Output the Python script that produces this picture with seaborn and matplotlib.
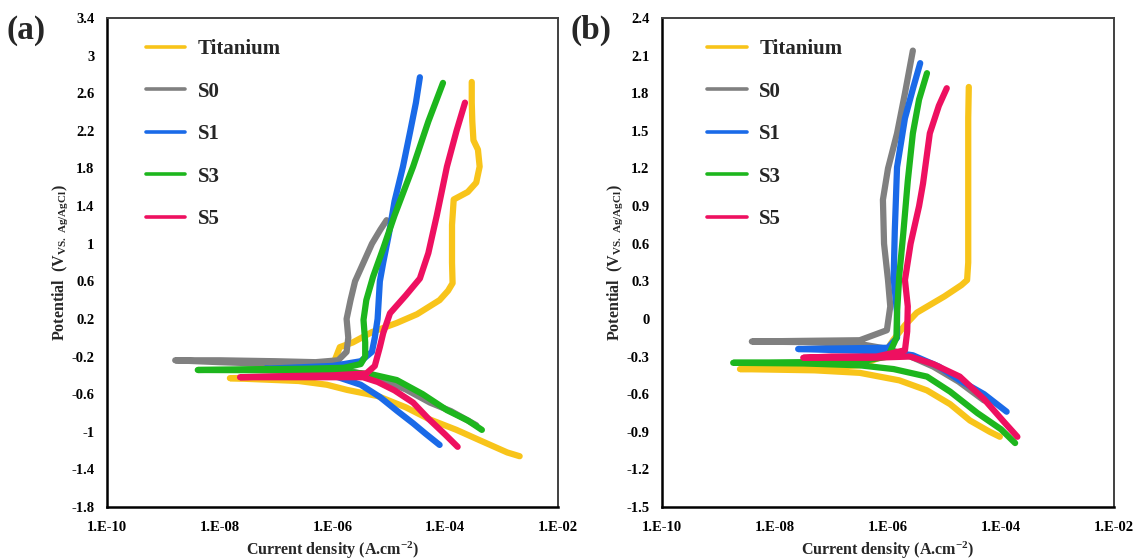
import numpy as np
import pandas as pd
import seaborn as sns
import matplotlib
matplotlib.use("Agg")
import matplotlib.pyplot as plt
from matplotlib.ticker import FixedLocator, FuncFormatter, NullFormatter
from matplotlib.lines import Line2D

# ---------------- data (log10 of current density, potential in V) ----------------
series_names = ["Titanium", "S0", "S1", "S3", "S5"]
series_colors = ["#F8C41A", "#808080", "#1A6AE8", "#1DB61D", "#EE1060"]

# panel (a)
a_ti_logi = [-2.68, -2.9, -3.39, -3.8, -4.27, -4.7, -5.2, -5.74, -6.1, -6.6, -7.0, -7.82,
             -7.0, -6.3, -6.0, -5.87, -5.64, -5.3, -4.86, -4.5, -4.1, -3.95, -3.87,
             -3.88, -3.88, -3.85, -3.6, -3.45, -3.39, -3.42, -3.5, -3.52, -3.53, -3.53]
a_ti_e = [-1.26, -1.22, -1.09, -0.98, -0.87, -0.74, -0.62, -0.555, -0.5, -0.46, -0.45, -0.43,
          -0.42, -0.41, -0.3, -0.1, -0.05, 0.06, 0.157, 0.25, 0.4, 0.5, 0.58,
          0.8, 1.2, 1.47, 1.55, 1.65, 1.82, 2.0, 2.1, 2.3, 2.5, 2.72]

a_s0_logi = [-3.45, -3.9, -4.27, -4.7, -5.1, -5.5, -5.9, -6.3, -7.0, -8.0, -8.79,
             -8.0, -7.0, -6.3, -5.9, -5.75, -5.72, -5.75, -5.68, -5.6, -5.45, -5.3, -5.15, -5.04]
a_s0_e = [-0.93, -0.78, -0.69, -0.55, -0.45, -0.38, -0.33, -0.3, -0.28, -0.26, -0.24,
          -0.24, -0.25, -0.26, -0.24, -0.15, 0.0, 0.2, 0.4, 0.6, 0.8, 1.0, 1.15, 1.25]

a_s1_logi = [-4.1, -4.35, -4.57, -4.85, -5.16, -5.5, -5.9, -6.3, -7.2,
             -6.0, -5.5, -5.3, -5.25, -5.2, -5.18, -5.16, -5.1, -5.0, -4.9, -4.75, -4.62, -4.52, -4.45]
a_s1_e = [-1.14, -1.02, -0.91, -0.78, -0.63, -0.5, -0.42, -0.37, -0.33,
          -0.3, -0.25, -0.15, 0.0, 0.2, 0.4, 0.6, 0.8, 1.1, 1.45, 1.82, 2.2, 2.5, 2.77]

a_s3_logi = [-3.35, -3.6, -3.97, -4.4, -4.86, -5.3, -5.8, -6.5, -7.5, -8.39,
             -7.5, -6.5, -5.8, -5.5, -5.42, -5.42, -5.45, -5.4, -5.28, -5.1, -4.9, -4.57, -4.3, -4.04]
a_s3_e = [-0.98, -0.88, -0.77, -0.6, -0.45, -0.39, -0.36, -0.35, -0.345, -0.343,
          -0.335, -0.33, -0.32, -0.28, -0.2, -0.05, 0.19, 0.4, 0.65, 0.95, 1.3, 1.82, 2.3, 2.71]

a_s5_logi = [-3.78, -4.0, -4.3, -4.57, -4.9, -5.2, -5.46, -6.0, -7.0, -7.64,
             -7.0, -6.0, -5.4, -5.25, -5.16, -5.1, -4.98, -4.7, -4.45, -4.3, -4.15, -3.97, -3.8, -3.65]
a_s5_e = [-1.16, -1.03, -0.86, -0.69, -0.56, -0.47, -0.42, -0.42, -0.42, -0.42,
          -0.41, -0.4, -0.38, -0.3, -0.1, 0.05, 0.26, 0.45, 0.63, 0.9, 1.3, 1.82, 2.2, 2.5]

# panel (b)
b_ti_logi = [-4.02, -4.2, -4.55, -4.9, -5.31, -5.8, -6.5, -7.3, -8.62,
             -7.3, -6.5, -6.1, -5.91, -5.7, -5.49, -5.0, -4.7, -4.6, -4.58, -4.58, -4.58, -4.58, -4.57]
b_ti_e = [-0.94, -0.9, -0.81, -0.68, -0.57, -0.49, -0.43, -0.41, -0.4,
          -0.39, -0.37, -0.3, -0.17, -0.05, 0.05, 0.18, 0.27, 0.31, 0.45, 0.8, 1.2, 1.6, 1.85]

b_s0_logi = [-4.3, -4.75, -5.2, -5.6, -6.0, -6.5, -7.5, -8.41,
             -7.5, -6.5, -6.02, -5.96, -6.0, -6.07, -6.09, -6.0, -5.84, -5.7, -5.56]
b_s0_e = [-0.65, -0.5, -0.38, -0.3, -0.24, -0.2, -0.185, -0.18,
          -0.175, -0.17, -0.09, 0.1, 0.31, 0.6, 0.95, 1.2, 1.48, 1.8, 2.14]

b_s1_logi = [-3.9, -4.3, -4.73, -5.1, -5.56, -6.0, -6.8, -7.59,
             -6.8, -6.0, -5.84, -5.84, -5.9, -5.88, -5.84, -5.7, -5.55, -5.43]
b_s1_e = [-0.74, -0.6, -0.49, -0.38, -0.29, -0.26, -0.25, -0.24,
          -0.235, -0.23, -0.15, 0.05, 0.33, 0.7, 1.21, 1.6, 1.85, 2.04]

b_s3_logi = [-3.75, -4.0, -4.42, -4.9, -5.31, -5.9, -6.5, -7.5, -8.74,
             -7.5, -6.5, -6.0, -5.85, -5.84, -5.8, -5.73, -5.65, -5.56, -5.45, -5.31]
b_s3_e = [-0.99, -0.88, -0.75, -0.58, -0.46, -0.4, -0.37, -0.355, -0.35,
          -0.345, -0.34, -0.3, -0.15, 0.05, 0.35, 0.68, 1.1, 1.48, 1.75, 1.96]

b_s5_logi = [-3.71, -3.95, -4.3, -4.73, -5.2, -5.61, -6.3, -7.0, -7.5,
             -7.0, -6.2, -5.7, -5.66, -5.65, -5.7, -5.6, -5.45, -5.38, -5.26, -5.1, -4.96]
b_s5_e = [-0.94, -0.82, -0.64, -0.46, -0.36, -0.3, -0.31, -0.31, -0.31,
          -0.3, -0.3, -0.25, -0.1, 0.1, 0.31, 0.6, 0.9, 1.08, 1.48, 1.7, 1.84]

x_tick_exponents = [-10, -8, -6, -4, -2]
a_yticks = [-1.8, -1.4, -1.0, -0.6, -0.2, 0.2, 0.6, 1.0, 1.4, 1.8, 2.2, 2.6, 3.0, 3.4]
b_yticks = [-1.5, -1.2, -0.9, -0.6, -0.3, 0.0, 0.3, 0.6, 0.9, 1.2, 1.5, 1.8, 2.1, 2.4]

panel_a = [(a_ti_logi, a_ti_e), (a_s0_logi, a_s0_e), (a_s1_logi, a_s1_e),
           (a_s3_logi, a_s3_e), (a_s5_logi, a_s5_e)]
panel_b = [(b_ti_logi, b_ti_e), (b_s0_logi, b_s0_e), (b_s1_logi, b_s1_e),
           (b_s3_logi, b_s3_e), (b_s5_logi, b_s5_e)]

# ---------------- style ----------------
sns.set_style("white")
plt.rcParams["font.family"] = ["Liberation Serif", "DejaVu Serif"]
plt.rcParams["font.weight"] = "bold"
plt.rcParams["mathtext.fontset"] = "custom"
plt.rcParams["mathtext.rm"] = "Liberation Serif"
plt.rcParams["mathtext.it"] = "Liberation Serif:italic"
plt.rcParams["mathtext.bf"] = "Liberation Serif:bold"

fig = plt.figure(figsize=(11.41, 5.60), dpi=100)
ax_a = fig.add_axes([107 / 1141, 1 - 507 / 560, 451 / 1141, 489 / 560])
ax_b = fig.add_axes([662 / 1141, 1 - 507 / 560, 452 / 1141, 489 / 560])

x_major = [10.0 ** e for e in x_tick_exponents]
x_minor = [m * 10.0 ** e for e in range(x_tick_exponents[0], x_tick_exponents[-1])
           for m in range(1, 10) if not (m == 1 and e in x_tick_exponents)]


def xfmt(v, pos):
    e = int(round(np.log10(v)))
    return f"1.E-{abs(e):02d}" if e < 0 else f"1.E+{e:02d}"


def yfmt(v, pos):
    v = round(v, 2)
    if abs(v) < 1e-9:
        v = 0.0
    return f"{v:g}"


def draw(ax, data, yticks, legend_x):
    for (logi, e), name, col in zip(data, series_names, series_colors):
        df = pd.DataFrame({"i": np.power(10.0, np.array(logi)), "E": e})
        sns.lineplot(data=df, x="i", y="E", sort=False, estimator=None, color=col,
                     lw=4.5, ax=ax, legend=False, solid_capstyle="round",
                     solid_joinstyle="round")
    ax.set_xscale("log")
    ax.set_xlim(x_major[0], x_major[-1])
    ax.set_ylim(yticks[0], yticks[-1])
    ax.xaxis.set_major_locator(FixedLocator(x_major))
    ax.xaxis.set_minor_locator(FixedLocator(x_minor))
    ax.xaxis.set_major_formatter(FuncFormatter(xfmt))
    ax.xaxis.set_minor_formatter(NullFormatter())
    yt = np.array(yticks)
    ax.yaxis.set_major_locator(FixedLocator(yt))
    ax.yaxis.set_minor_locator(FixedLocator((yt[:-1] + yt[1:]) / 2))
    ax.yaxis.set_major_formatter(FuncFormatter(yfmt))
    ax.tick_params(axis="both", which="major", direction="out", length=5, width=1.5,
                   labelsize=10.5, pad=4, colors="black")
    ax.tick_params(axis="x", which="major", direction="inout", length=8, pad=6)
    ax.tick_params(axis="both", which="minor", direction="in", length=3, width=1.0)
    for s in ["left", "bottom"]:
        ax.spines[s].set_color("black")
        ax.spines[s].set_linewidth(1.8)
    for s in ["top", "right"]:
        ax.spines[s].set_color("#404040")
        ax.spines[s].set_linewidth(1.4)
    for lab in ax.get_xticklabels() + ax.get_yticklabels():
        lab.set_fontweight("bold")
    ax.set_xlabel("Current density (A.cm$^{\\mathbf{-2}}$)", fontsize=11.5,
                  fontweight="bold", labelpad=4)
    ax.set_ylabel("Potential  (V$_{\\mathrm{VS.\\ Ag/AgCl}}$)", fontsize=11.5,
                  fontweight="bold", labelpad=1)
    handles = [Line2D([], [], color=c, lw=2.6) for c in series_colors]
    ax.legend(handles, series_names, loc="upper left", bbox_to_anchor=(legend_x, 0.957),
              frameon=False, borderpad=0, borderaxespad=0, handlelength=1.9,
              handletextpad=0.6, labelspacing=1.08,
              prop={"family": "Liberation Serif", "weight": "bold", "size": 15})


draw(ax_a, panel_a, a_yticks, 0.086)
draw(ax_b, panel_b, b_yticks, 0.10)

fig.text(7 / 1141, 1 - 30 / 560, "(a)", fontsize=24, fontweight="bold", va="center", ha="left")
fig.text(570 / 1141, 1 - 30 / 560, "(b)", fontsize=24, fontweight="bold", va="center", ha="left")

fig.savefig("out.png", dpi=100)
